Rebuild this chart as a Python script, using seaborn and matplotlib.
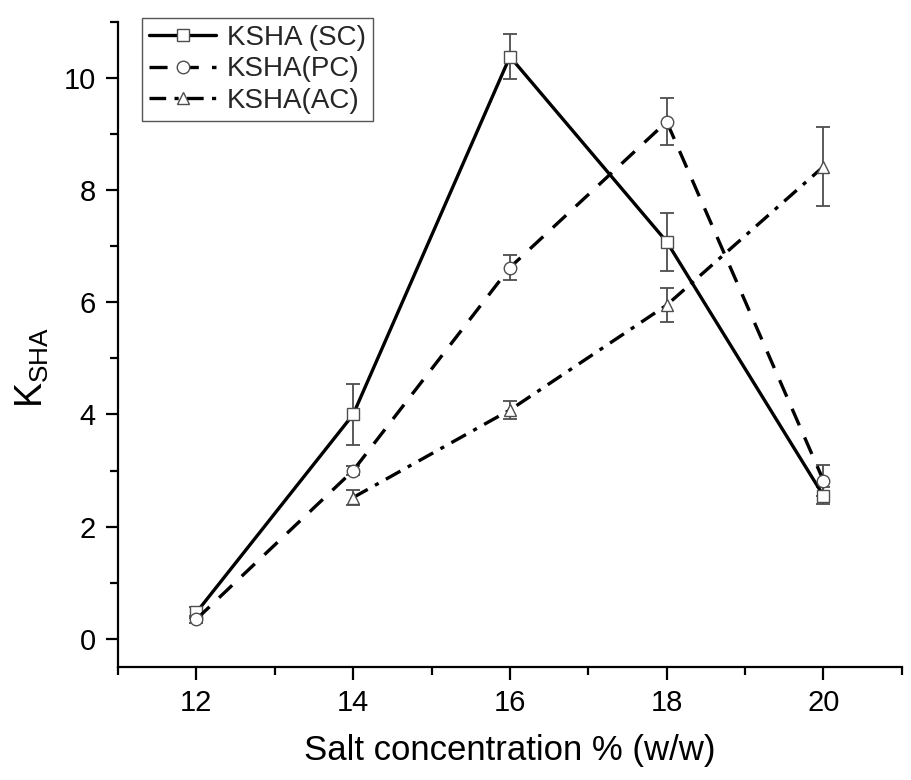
import matplotlib
matplotlib.use("Agg")
import matplotlib.pyplot as plt
import seaborn as sns
import pandas as pd
from matplotlib.ticker import MultipleLocator

# Salt concentration (% w/w)
salt_sc = [12, 14, 16, 18, 20]
ksha_sc = [0.47, 4.00, 10.38, 7.08, 2.55]
err_sc = [0.10, 0.54, 0.40, 0.52, 0.15]

salt_pc = [12, 14, 16, 18, 20]
ksha_pc = [0.35, 3.00, 6.62, 9.22, 2.82]
err_pc = [0.06, 0.08, 0.22, 0.42, 0.28]

salt_ac = [14, 16, 18, 20]
ksha_ac = [2.52, 4.08, 5.95, 8.42]
err_ac = [0.13, 0.16, 0.30, 0.70]

labels = ["KSHA (SC)", "KSHA(PC)", "KSHA(AC)"]

sns.set_theme(style="ticks")
plt.rcParams["font.family"] = ["Liberation Sans", "DejaVu Sans"]
plt.rcParams["mathtext.fontset"] = "custom"
plt.rcParams["mathtext.rm"] = "Liberation Sans"
plt.rcParams["mathtext.it"] = "Liberation Sans"
plt.rcParams["lines.scale_dashes"] = False

fig = plt.figure(figsize=(9.11, 7.80), dpi=100)
ax = fig.add_axes([0.1295, 0.145, 0.8605, 0.827])

series = [
    (salt_sc, ksha_sc, err_sc, labels[0], "s", None),
    (salt_pc, ksha_pc, err_pc, labels[1], "o", (13, 9.5)),
    (salt_ac, ksha_ac, err_ac, labels[2], "^", (12, 6, 3, 6)),
]

ink = "#000000"
grey = "#4d4d4d"
handles = []
for xs, ys, es, lab, mk, dash in series:
    df = pd.DataFrame({"salt": xs, "ksha": ys})
    ax.errorbar(xs, ys, yerr=es, fmt="none", ecolor=grey, elinewidth=1.3,
                capsize=4.8, capthick=1.3, zorder=2)
    kw = dict(color=ink, linewidth=2.4, marker=mk, markersize=9,
              markerfacecolor="white", markeredgecolor=grey,
              markeredgewidth=1.0, zorder=3)
    if dash is not None:
        kw["dashes"] = dash
    sns.lineplot(data=df, x="salt", y="ksha", ax=ax, label=lab,
                 legend=False, **kw)
    handles.append(ax.lines[-1])

ax.set_xlim(11, 21)
ax.set_ylim(-0.5, 11)
ax.xaxis.set_major_locator(MultipleLocator(2))
ax.xaxis.set_minor_locator(MultipleLocator(1))
ax.yaxis.set_major_locator(MultipleLocator(2))
ax.yaxis.set_minor_locator(MultipleLocator(1))

for side in ["top", "right"]:
    ax.spines[side].set_visible(False)
for side in ["left", "bottom"]:
    ax.spines[side].set_linewidth(1.6)
    ax.spines[side].set_color("black")

ax.tick_params(axis="both", which="major", direction="out", length=9,
               width=1.6, color="black", labelsize=21, pad=7,
               labelcolor="black")
ax.tick_params(axis="both", which="minor", direction="out", length=5.5,
               width=1.6, color="black")

ax.set_xlabel("Salt concentration % (w/w)", fontsize=25, labelpad=12,
              color="black")
ax.set_ylabel(r"$\mathrm{K_{SHA}}$", fontsize=27, color="black")
ax.yaxis.set_label_coords(-0.086, 0.465)

leg = ax.legend(handles=handles, labels=labels, loc="upper left",
                bbox_to_anchor=(0.031, 1.006), fontsize=20, frameon=True,
                fancybox=False, edgecolor="#555555", framealpha=1,
                handlelength=2.4, handletextpad=0.4, borderpad=0.25,
                labelspacing=0.2, borderaxespad=0)
leg.get_frame().set_linewidth(1.0)

fig.savefig("out.png", dpi=100, facecolor="white")
